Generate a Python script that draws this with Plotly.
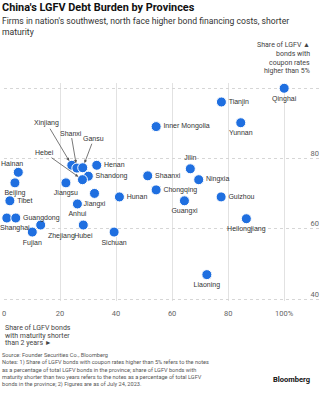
import plotly.graph_objects as go

provinces = ["Qinghai", "Tianjin", "Yunnan", "Inner Mongolia", "Jilin", "Ningxia", "Shaanxi",
             "Chongqing", "Guangxi", "Guizhou", "Heilongjiang", "Liaoning", "Hunan", "Sichuan",
             "Hubei", "Anhui", "Jiangxi", "Jiangsu", "Shandong", "Hebei", "Xinjiang", "Shanxi",
             "Gansu", "Henan", "Hainan", "Beijing", "Tibet", "Shanghai", "Guangdong", "Zhejiang",
             "Fujian"]
maturity_share = [100.0, 77.6, 84.5, 54.3, 66.5, 69.5, 51.3,
                  54.3, 64.4, 77.5, 86.5, 72.4, 41.2, 39.3,
                  28.3, 26.2, 32.3, 22.1, 30.1, 28.0, 24.2, 26.0,
                  28.1, 33.1, 5.1, 3.9, 2.1, 1.0, 4.2, 13.1,
                  10.1]
coupon_share = [100.0, 96.1, 90.2, 89.1, 77.1, 74.0, 75.1,
                71.1, 68.0, 69.1, 62.9, 47.0, 69.1, 59.1,
                61.1, 67.1, 70.1, 73.1, 75.0, 74.0, 78.1, 77.3,
                77.4, 78.1, 76.1, 73.1, 68.0, 63.1, 63.1, 61.1,
                59.1]
label_pos = ["bottom center", "middle right", "bottom center", "middle right", "top center",
             "middle right", "middle right", "middle right", "bottom center", "middle right",
             "bottom center", "bottom center", "middle right", "bottom center", "bottom center",
             "bottom center", "bottom center", "bottom center", "middle right", "none", "none",
             "none", "none", "middle right", "none", "bottom center", "middle right",
             "none", "middle right", "bottom right", "bottom center"]
# labels drawn with arrows: (province, ax, ay)
arrow_labels = [("Xinjiang", -25, -42), ("Shanxi", -6, -35), ("Gansu", 11, -29), ("Hebei", -38, -27)]
# labels near the left edge, nudged so they stay inside the picture: (province, xshift, yshift)
edge_labels = [("Hainan", -6, 9), ("Shanghai", 8, -10)]

x_ticks = [0, 20, 40, 60, 80, 100]
x_ticktext = ["0", "20", "40", "60", "80", "100%"]
y_ticks = [40, 60, 80, 100]
y_ticktext = ["40", "60", "80", "100%"]

BLUE = "#1f6fe0"
LBL = "Liberation Sans"
TXT = "Roboto"

texts = [p if pos != "none" else "" for p, pos in zip(provinces, label_pos)]
tpos = [pos if pos != "none" else "middle right" for pos in label_pos]

fig = go.Figure()
fig.add_trace(go.Scatter(
    x=maturity_share, y=coupon_share, mode="markers+text",
    text=texts, textposition=tpos,
    textfont=dict(family=LBL, size=7, color="#333333"),
    marker=dict(size=10, color=BLUE, line=dict(width=1, color="white")),
    cliponaxis=False, hoverinfo="text", hovertext=provinces, showlegend=False,
))

annotations = []
for name, ax, ay in arrow_labels:
    i = provinces.index(name)
    annotations.append(dict(
        x=maturity_share[i], y=coupon_share[i], xref="x", yref="y",
        text=name, showarrow=True, ax=ax, ay=ay, arrowhead=2, arrowsize=0.8,
        arrowwidth=0.8, arrowcolor="#555555", standoff=5,
        font=dict(family=LBL, size=7, color="#333333"),
    ))
for name, xs, ys in edge_labels:
    i = provinces.index(name)
    annotations.append(dict(
        x=maturity_share[i], y=coupon_share[i], xref="x", yref="y",
        text=name, showarrow=False, xshift=xs, yshift=ys,
        font=dict(family=LBL, size=7, color="#333333"),
    ))

W0 = 4.0
PW = 318.0
PB = 301.0
PH = 218.0

def px(x):
    return (x - W0) / PW

def py(y):
    return (PB - y) / PH

annotations += [
    dict(x=px(0), y=py(8), xref="paper", yref="paper", xanchor="left", yanchor="middle",
         text="<b>China's LGFV Debt Burden by Provinces</b>", showarrow=False,
         font=dict(family=TXT, size=10.9, color="#111111")),
    dict(x=px(0), y=py(21), xref="paper", yref="paper", xanchor="left", yanchor="middle",
         text="Firms in nation's southwest, north face higher bond financing costs, shorter",
         showarrow=False, font=dict(family=TXT, size=8.65, color="#333333")),
    dict(x=px(0), y=py(32), xref="paper", yref="paper", xanchor="left", yanchor="middle",
         text="maturity", showarrow=False, font=dict(family=TXT, size=8.65, color="#333333")),
]
for txt, yy in [("Share of LGFV \u25b2", 45), ("bonds with", 54), ("coupon rates", 63), ("higher than 5%", 71)]:
    annotations.append(dict(x=px(312), y=py(yy), xref="paper", yref="paper", xanchor="right",
                            yanchor="middle", text=txt, showarrow=False,
                            font=dict(family=TXT, size=7, color="#444444")))
for txt, yy in [("Share of LGFV bonds", 328), ("with maturity shorter", 336), ("than 2 years \u25ba", 343)]:
    annotations.append(dict(x=px(3), y=py(yy), xref="paper", yref="paper", xanchor="left",
                            yanchor="middle", text=txt, showarrow=False,
                            font=dict(family=TXT, size=7, color="#444444")))
notes = [
    ("Source: Founder Securities Co., Bloomberg", 355),
    ("Notes: 1) Share of LGFV bonds with coupon rates higher than 5% refers to the notes", 362.7),
    ("as a percentage of total LGFV bonds in the province; share of LGFV bonds with", 370),
    ("maturity shorter than two years refers to the notes as a percentage of total LGFV", 377.3),
    ("bonds in the province; 2) Figures are as of July 24, 2023.", 384.3),
]
for txt, yy in notes:
    annotations.append(dict(x=px(0), y=py(yy), xref="paper", yref="paper", xanchor="left",
                            yanchor="middle", text=txt, showarrow=False,
                            font=dict(family=TXT, size=5.6, color="#555555")))
annotations.append(dict(x=px(312), y=py(379), xref="paper", yref="paper", xanchor="right",
                        yanchor="middle", text="<b>Bloomberg</b>", showarrow=False,
                        font=dict(family=TXT, size=7.5, color="#111111")))

fig.update_layout(
    width=324, height=400,
    margin=dict(l=4, r=2, t=83, b=99, pad=0),
    plot_bgcolor="white", paper_bgcolor="white",
    annotations=annotations,
    xaxis=dict(range=[0, 113.5], tickvals=x_ticks, ticktext=x_ticktext, showgrid=True,
               gridcolor="#e2e2e2", gridwidth=1, zeroline=False, showline=False, ticks="",
               ticklabelstandoff=6,
               tickfont=dict(family=TXT, size=7.5, color="#666666"), fixedrange=True),
    yaxis=dict(range=[39.5, 101.5], tickvals=y_ticks, ticktext=y_ticktext, side="right",
               ticklabelposition="inside top", showgrid=True, gridcolor="#d6d6d6",
               griddash="dot", gridwidth=1, zeroline=False, showline=False, ticks="",
               tickfont=dict(family=TXT, size=7.5, color="#666666"), fixedrange=True),
)

fig.write_html("out.html")
